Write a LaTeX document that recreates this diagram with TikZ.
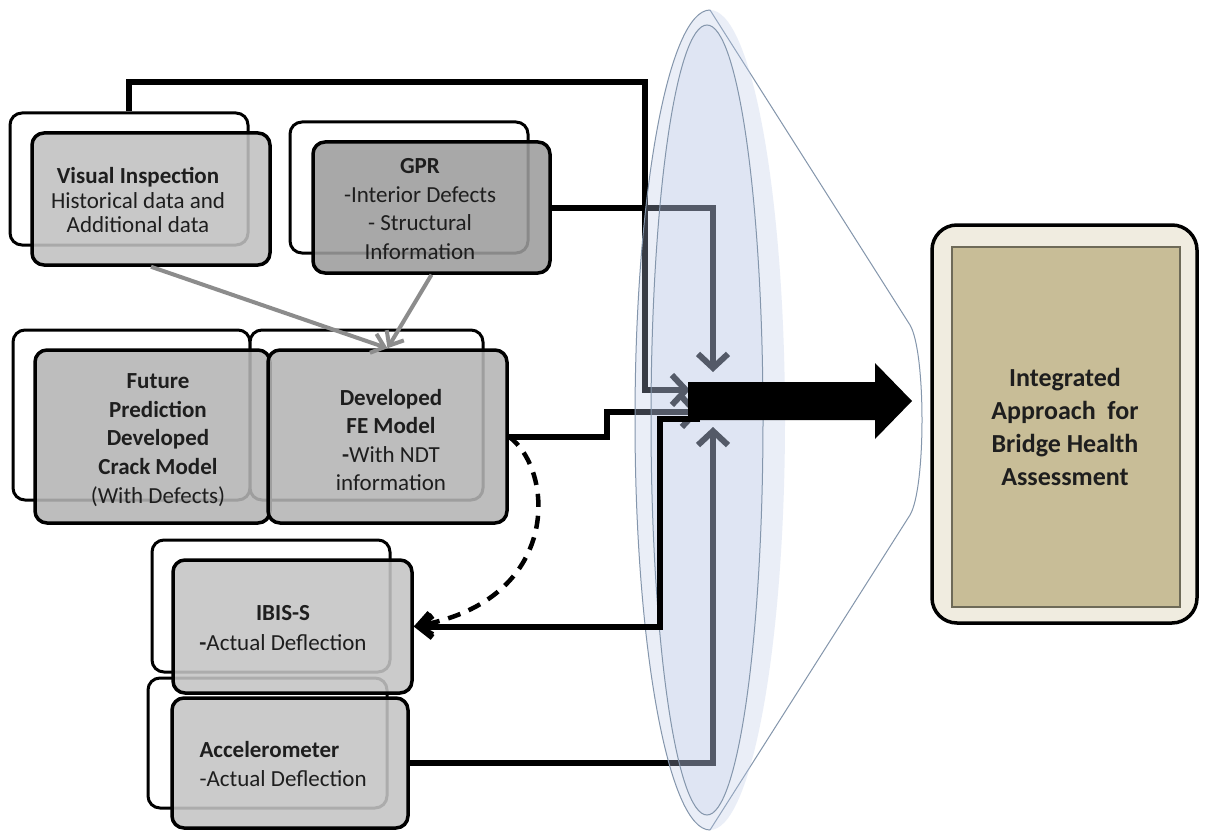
\documentclass[tikz,border=0pt]{standalone}
\usepackage{fontspec}
\setmainfont{Carlito}
\usepackage{xcolor}
\usetikzlibrary{arrows.meta,positioning}

\definecolor{inkgray}{HTML}{1E1E1E}
\definecolor{vigray}{HTML}{C1C1C1}
\definecolor{gprgray}{HTML}{9D9D9D}
\definecolor{modelgray}{HTML}{B4B4B4}
\definecolor{sensorgray}{HTML}{C4C4C4}
\definecolor{feedgray}{HTML}{8C8C8C}
\definecolor{lensfill}{HTML}{BAC9E7}
\definecolor{lensline}{HTML}{8496AC}
\definecolor{cream}{HTML}{F0ECE0}
\definecolor{tan}{HTML}{C8BD97}
\definecolor{tanline}{HTML}{6E6A58}

\begin{document}
\begin{tikzpicture}[x=1pt, y=-1pt,
        backbox/.style={draw=black, line width=3pt, rounded corners=12pt, fill=white, inner sep=0pt},
        frontbox/.style={draw=black, line width=3.5pt, rounded corners=12pt, fill opacity=.88, inner sep=0pt},
        boxtext/.style={align=center, text=inkgray, font=\fontsize{23}{28.6}\selectfont},
        flow/.style={line width=6pt},
        hubtip/.style={-{Straight Barb[length=14pt,width=30pt]}},
        feed/.style={draw=feedgray, line width=4pt, -{Straight Barb[length=12pt,width=20pt]}},
        lens/.style={draw=lensline, line width=1pt}]
    \path[use as bounding box, fill=white] (0,0) rectangle (1208,832);

    % funnel behind everything
    \draw[lens, fill=white] (710,10) -- (910,325) .. controls (926,352) and (926,488) .. (910,515) -- (710,830);

    % input boxes
    \node[backbox, minimum width=238pt, minimum height=132pt] (vib) at (129,179) {};
    \node[backbox, minimum width=238pt, minimum height=131pt] (gprb) at (409,187.5) {};
    \node[backbox, minimum width=237pt, minimum height=170pt] (fpb) at (131.5,415) {};
    \node[backbox, minimum width=233pt, minimum height=170pt] (feb) at (366.5,415) {};
    \node[backbox, minimum width=238pt, minimum height=132pt] (ibisb) at (271,606) {};
    \node[backbox, minimum width=239pt, minimum height=130pt] (accb) at (267.5,743) {};

    \node[frontbox, fill=vigray, minimum width=238pt, minimum height=132pt] (vi) at (151,199) {};
    \node[frontbox, fill=gprgray, minimum width=237pt, minimum height=131pt] (gpr) at (431.5,207.5) {};
    \node[frontbox, fill=modelgray, minimum width=235pt, minimum height=173pt] (fp) at (152.5,436.5) {};
    \node[frontbox, fill=modelgray, minimum width=239pt, minimum height=173pt] (fe) at (387.5,436.5) {};
    \node[frontbox, fill=sensorgray, minimum width=239pt, minimum height=133pt] (ibis) at (292.5,626.5) {};
    \node[frontbox, fill=sensorgray, minimum width=236pt, minimum height=130pt] (acc) at (290,763) {};

    \node[boxtext, font=\fontsize{23}{24.5}\selectfont] (vitxt) at (138,200) {\textbf{Visual Inspection}\\Historical data and\\Additional data};
    \node[boxtext] (gprtxt) at (420,209) {\textbf{GPR}\\-Interior Defects\\- Structural\\Information};
    \node[boxtext] (fptxt) at (158,440) {\textbf{Future}\\\textbf{Prediction}\\\textbf{Developed}\\\textbf{Crack Model}\\(With Defects)};
    \node[boxtext] (fetxt) at (391,440) {\textbf{Developed}\\\textbf{FE Model}\\\textbf{-}With NDT\\information};
    \node[boxtext, font=\fontsize{23}{30}\selectfont] (ibistxt) at (283,628) {\textbf{IBIS-S}\\\textbf{-}Actual Deflection};
    \node[boxtext, align=left, anchor=west] (acctxt) at (196,764) {\textbf{Accelerometer}\\-Actual Deflection};

    % result box
    \node[draw=black, line width=3.5pt, rounded corners=25pt, fill=cream, minimum width=265pt, minimum height=398pt] (intbox) at (1064.5,424) {};
    \node[draw=tanline, line width=1.2pt, fill=tan, minimum width=228pt, minimum height=360pt] (intinner) at (1066,427) {};
    \node[boxtext, font=\bfseries\fontsize{26}{33}\selectfont] (inttxt) at (1065,427) {Integrated\\Approach\ \ for\\Bridge Health\\Assessment};

    % connectors
    \coordinate (vitop) at (645,82);
    \coordinate (viin) at (690,390);
    \coordinate (gprin) at (713,372);
    \coordinate (accin) at (713,427);
    \coordinate (festep) at (607,412);
    \coordinate (fein) at (700,412);
    \coordinate (ibisup) at (700,419);
    \coordinate (ibisturn) at (660,626.5);
    \coordinate (hub) at (688,401);

    \draw[feed] (vi.south) -- (fe.north);
    \draw[feed] (gpr.south) -- (fe.north);
    \draw[flow, hubtip] (vib.north) |- (vitop) |- (viin);
    \draw[flow, hubtip] (gpr.east) -| (gprin);
    \draw[flow, hubtip] (acc.east) -| (accin);
    \draw[flow, hubtip] (fe.east) -| (festep) -- (fein);
    \draw[line width=4.5pt, dash pattern=on 13pt off 9pt, -{Straight Barb[length=14pt,width=22pt]}] (fe.east) .. controls (555,470) and (562,600) .. (ibis.east);

    % lens over the lines
    \fill[lensfill, fill opacity=.3] (710,420) ellipse[x radius=75, y radius=410];
    \draw[lens] (710,830) arc[start angle=90, end angle=270, x radius=75, y radius=410];
    \draw[lens, fill=lensfill, fill opacity=.22] (707,420) ellipse[x radius=56, y radius=395];

    \draw[flow, -{Straight Barb[length=14pt,width=22pt]}] (ibisup) -| (ibisturn) -- (ibis.east);
    \fill (hub |- 0,382) -- (875,382) -- (875,363) -- (912,401) -- (875,439) -- (875,420) -- (hub |- 0,420) -- cycle;
\end{tikzpicture}
\end{document}
